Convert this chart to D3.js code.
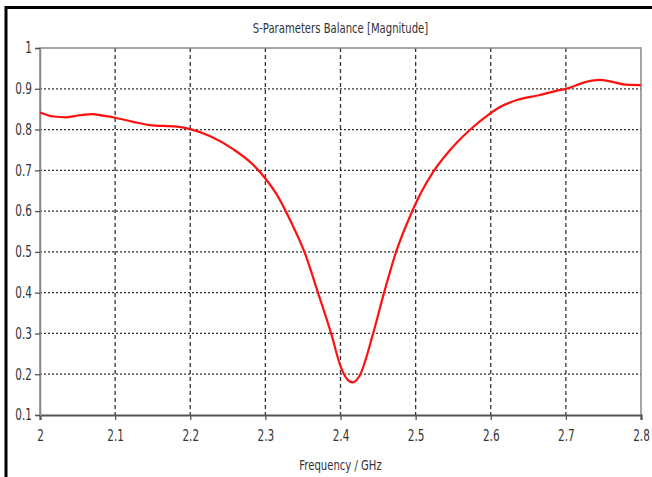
<!DOCTYPE html>
<html lang="en">
<head>
<meta charset="UTF-8">
<title>S-Parameters Balance</title>
<script src="https://d3js.org/d3.v7.min.js"></script>
<style>
  body { margin: 0; background: #fff; }
  text { font-family: "DejaVu Sans", sans-serif; fill: #333; }
</style>
</head>
<body>
<div id="chart"></div>
<script>
	const W = 652, H = 477;
	const margin = {top: 48, right: 11, bottom: 62, left: 40},
		width = W - margin.left - margin.right,
		height = H - margin.top - margin.bottom;

	// frequency (GHz) and magnitude
	const freq = [2.0, 2.018, 2.035, 2.053, 2.069, 2.084, 2.1, 2.124, 2.146, 2.182, 2.2, 2.226, 2.257, 2.283, 2.3,
		2.317, 2.335, 2.352, 2.37, 2.388, 2.40, 2.408, 2.416, 2.425, 2.443, 2.458, 2.474, 2.492, 2.508, 2.523, 2.545,
		2.571, 2.598, 2.611, 2.636, 2.664, 2.687, 2.702, 2.727, 2.744, 2.762, 2.78, 2.8];
	const mag = [0.842, 0.832, 0.830, 0.835, 0.838, 0.834, 0.829, 0.819, 0.811, 0.807, 0.801, 0.784, 0.752, 0.715, 0.680,
		0.635, 0.570, 0.50, 0.40, 0.297, 0.22, 0.19, 0.18, 0.195, 0.297, 0.40, 0.50, 0.585, 0.648, 0.695, 0.748,
		0.797, 0.838, 0.854, 0.873, 0.884, 0.895, 0.901, 0.917, 0.922, 0.917, 0.91, 0.909];
	const xTicks = [2, 2.1, 2.2, 2.3, 2.4, 2.5, 2.6, 2.7, 2.8];
	const yTicks = [0.1, 0.2, 0.3, 0.4, 0.5, 0.6, 0.7, 0.8, 0.9, 1];

	// squeeze text horizontally to look like the narrow font of the original
	function condense(sel, k) {
		sel.each(function() {
			const t = d3.select(this);
			const x = +t.attr("x") || 0;
			t.attr("x", x / k).attr("transform", `scale(${k},1)`);
		});
	}

	const root = d3.select("#chart").append("svg")
		.attr("width", W)
		.attr("height", H);

	// outer frame (left and top only)
	root.append("path")
		.attr("d", `M6,${H} V7.5 H${W}`)
		.attr("fill", "none")
		.attr("stroke", "#000")
		.attr("stroke-width", 3);

	root.append("text")
		.attr("x", margin.left + width / 2)
		.attr("y", 33)
		.attr("text-anchor", "middle")
		.style("font-size", "14px")
		.text("S-Parameters Balance [Magnitude]")
		.call(condense, 0.72);

	const svg = root.append("g")
		.attr("transform", `translate(${margin.left}, ${margin.top})`);

	const xScale = d3.scaleLinear().domain([2, 2.8]).range([0, width]);
	const yScale = d3.scaleLinear().domain([0.1, 1]).range([height, 0]);

	// grid
	svg.append("g")
		.selectAll("line")
		.data(yTicks.slice(1, -1))
		.join("line")
		.attr("x1", 0).attr("x2", width)
		.attr("y1", d => yScale(d)).attr("y2", d => yScale(d))
		.attr("stroke", "#333")
		.attr("stroke-width", 1.3)
		.attr("stroke-dasharray", "2,2");
	svg.append("g")
		.selectAll("line")
		.data(xTicks.slice(1, -1))
		.join("line")
		.attr("x1", d => xScale(d)).attr("x2", d => xScale(d))
		.attr("y1", 0).attr("y2", height)
		.attr("stroke", "#333")
		.attr("stroke-width", 1.3)
		.attr("stroke-dasharray", "4,3");

	// plot box
	svg.append("path")
		.attr("d", `M0,${height} V0 H${width} V${height}`)
		.attr("fill", "none")
		.attr("stroke", "#888")
		.attr("stroke-width", 1.5);

	// axes
	const xAxis = svg.append("g")
		.attr("transform", `translate(0, ${height})`)
		.call(d3.axisBottom(xScale).tickValues(xTicks).tickFormat(d3.format("")).tickSize(5).tickPadding(10));
	const yAxis = svg.append("g")
		.call(d3.axisLeft(yScale).tickValues(yTicks).tickFormat(d3.format("")).tickSize(5).tickPadding(3));
	[xAxis, yAxis].forEach(a => {
		a.selectAll("text").style("font-size", "15px").attr("fill", "#333").call(condense, 0.7);
		a.selectAll("line").attr("stroke", "#555").attr("stroke-width", 1.3);
	});
	xAxis.select(".domain").attr("stroke", "#555").attr("stroke-width", 2.2);
	yAxis.select(".domain").attr("stroke", "#888").attr("stroke-width", 1.5);

	// curve
	const pts = freq.map((f, i) => [f, mag[i]]);
	svg.append("path")
		.datum(pts)
		.attr("fill", "none")
		.attr("stroke", "#ff1010")
		.attr("stroke-width", 2.2)
		.attr("d", d3.line()
			.x(d => xScale(d[0]))
			.y(d => yScale(d[1]))
			.curve(d3.curveMonotoneX));

	root.append("text")
		.attr("x", margin.left + width / 2)
		.attr("y", 470)
		.attr("text-anchor", "middle")
		.style("font-size", "14px")
		.text("Frequency / GHz")
		.call(condense, 0.72);
</script>
</body>
</html>
